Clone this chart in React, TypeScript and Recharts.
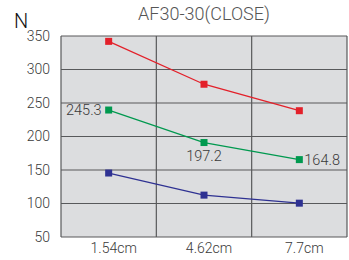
import React from 'react';
import {
  LineChart,
  Line,
  XAxis,
  YAxis,
  CartesianGrid,
  ReferenceLine,
  LabelList,
} from 'recharts';

const categories = ['1.54cm', '4.62cm', '7.7cm'];
const redValues = [342, 278, 238.5];
const greenValues = [239.5, 191, 165.5];
const greenLabels = ['245.3', '197.2', '164.8'];
const blueValues = [145.5, 112.5, 100.5];
const yTicks = [50, 100, 150, 200, 250, 300, 350];

const FONT = 'Roboto, "DejaVu Sans", sans-serif';
const GRID = '#58595b';
const TEXT = '#3a3a3a';

const data = categories.map((name, i) => ({
  x: i + 0.5,
  name,
  red: redValues[i],
  green: greenValues[i],
  blue: blueValues[i],
  greenLabel: greenLabels[i],
}));

const squareDot = (color: string) => (props: any) => {
  const { cx, cy, index } = props;
  if (cx == null || cy == null) return <g key={index} />;
  return <rect key={index} x={cx - 3.5} y={cy - 3.5} width={7} height={7} fill={color} />;
};

const greenLabel = (props: any) => {
  const { x, y, index, value } = props;
  const common = { fontFamily: FONT, fontSize: 14.5, fontWeight: 300, fill: TEXT };
  if (index === 0) {
    return <text x={x - 7} y={y} dy="0.35em" textAnchor="end" {...common}>{value}</text>;
  }
  if (index === 1) {
    return <text x={x} y={y + 13} dy="0.35em" textAnchor="middle" {...common}>{value}</text>;
  }
  return <text x={x + 5} y={y} dy="0.35em" textAnchor="start" {...common}>{value}</text>;
};

const tickStyle = { fontFamily: FONT, fontSize: 14, fontWeight: 300, fill: TEXT };

export default function App() {
  return (
    <div style={{ position: 'absolute', left: 0, top: 0, width: 349, height: 260, background: '#fff' }}>
      <div
        style={{
          position: 'absolute',
          left: 61,
          width: 286,
          top: 3,
          textAlign: 'center',
          fontFamily: FONT,
          fontWeight: 300,
          fontSize: 18,
          color: '#555',
        }}
      >
        AF30-30(CLOSE)
      </div>
      <div
        style={{
          position: 'absolute',
          left: 14,
          top: 9,
          fontFamily: FONT,
          fontWeight: 300,
          fontSize: 20,
          color: '#111',
        }}
      >
        N
      </div>
      <LineChart width={349} height={260} data={data} margin={{ top: 36, right: 2, bottom: 0, left: 0 }}>
        <CartesianGrid vertical={false} stroke={GRID} strokeWidth={1.2} fill="#dcdddf" />
        <XAxis
          dataKey="x"
          type="number"
          domain={[0, 3]}
          ticks={[0.5, 1.5, 2.5]}
          tickFormatter={(v: number) => categories[Math.floor(v)]}
          tickLine={false}
          axisLine={false}
          height={23}
          tickSize={0}
          tickMargin={6}
          dx={5}
          tick={tickStyle}
        />
        <YAxis
          domain={[50, 350]}
          ticks={yTicks}
          width={61}
          tickLine={false}
          axisLine={false}
          tickSize={0}
          tickMargin={11}
          tick={tickStyle}
        />
        {[0, 1, 2, 3].map((v) => (
          <ReferenceLine key={v} x={v} stroke={GRID} strokeWidth={1.2} />
        ))}
        <Line
          dataKey="red"
          stroke="#e3202a"
          strokeWidth={1.3}
          dot={squareDot('#e3202a')}
          isAnimationActive={false}
        />
        <Line
          dataKey="green"
          stroke="#00994f"
          strokeWidth={1.3}
          dot={squareDot('#00994f')}
          isAnimationActive={false}
        >
          <LabelList dataKey="greenLabel" content={greenLabel} />
        </Line>
        <Line
          dataKey="blue"
          stroke="#2e3192"
          strokeWidth={1.3}
          dot={squareDot('#2e3192')}
          isAnimationActive={false}
        />
      </LineChart>
    </div>
  );
}
